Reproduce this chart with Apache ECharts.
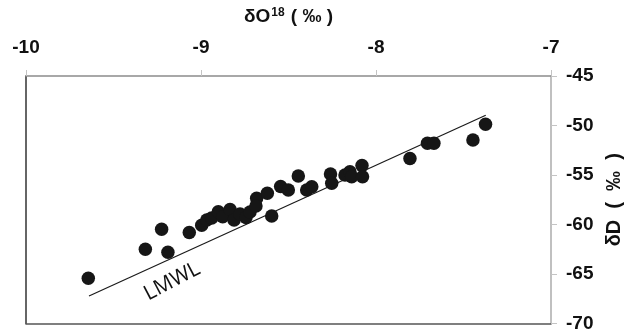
<!DOCTYPE html>
<html>
<head>
<meta charset="utf-8">
<script src="https://cdn.jsdelivr.net/npm/echarts@6/dist/echarts.min.js"></script>
<style>
  html, body { margin: 0; padding: 0; background: #fff; }
  #chart { width: 631px; height: 332px; }
</style>
</head>
<body>
<div id="chart"></div>
<script>
  // δO18 / δD samples
  var d18O = [-9.644, -9.318, -9.225, -9.189, -9.067, -8.996, -8.967, -8.939, -8.901, -8.876,
    -8.834, -8.811, -8.777, -8.743, -8.72, -8.682, -8.686, -8.621, -8.596, -8.545,
    -8.501, -8.444, -8.396, -8.367, -8.26, -8.253, -8.177, -8.149, -8.139, -8.08,
    -8.077, -7.806, -7.706, -7.669, -7.446, -7.374]
  var dD = [-65.43, -62.51, -60.48, -62.81, -60.81, -60.08, -59.55, -59.34, -58.71, -59.21,
    -58.48, -59.55, -58.94, -59.29, -58.74, -57.35, -58.13, -56.85, -59.14, -56.16,
    -56.52, -55.10, -56.52, -56.18, -54.90, -55.84, -55.0, -54.67, -55.17, -54.04,
    -55.17, -53.33, -51.80, -51.80, -51.46, -49.87]

  // local meteoric water line, end points
  var lmwlX = [-9.64, -7.373]
  var lmwlY = [-67.22, -48.97]
  var lmwlLabelAt = [-9.165, -65.75]

  var xTicks = [-10, -9, -8, -7]
  var yTicks = [-70, -65, -60, -55, -50, -45]

  var chart = echarts.init(document.getElementById('chart'))

  var pts = []
  for (var i = 0; i < d18O.length; i++) {
    pts.push([d18O[i], dD[i]])
  }
  var line = []
  for (var j = 0; j < lmwlX.length; j++) {
    line.push([lmwlX[j], lmwlY[j]])
  }

  var labelFont = {
    color: '#111',
    fontFamily: 'Liberation Sans, Arial, sans-serif',
    fontWeight: 'bold',
    fontSize: 19
  }

  var option = {
    animation: false,
    backgroundColor: '#fff',
    grid: {
      left: 26,
      right: 80,
      top: 76,
      bottom: 8.5,
      outerBoundsMode: 'none'
    },
    xAxis: [{
      type: 'value',
      position: 'top',
      min: xTicks[0],
      max: xTicks[xTicks.length - 1],
      interval: 1,
      splitLine: { show: false },
      axisLine: { lineStyle: { color: '#8c8c8c', width: 1.5 } },
      axisTick: { show: true, inside: false, length: 6, lineStyle: { color: '#c4c4c4' } },
      axisLabel: Object.assign({ margin: 19 }, labelFont),
      name: '{a|δO}{s|18}{a| ( ‰ )}',
      nameLocation: 'middle',
      nameGap: 49,
      nameTextStyle: {
        rich: {
          a: { fontFamily: 'Liberation Sans, Arial, sans-serif', fontWeight: 'bold', fontSize: 19, color: '#111' },
          s: { fontFamily: 'Liberation Sans, Arial, sans-serif', fontWeight: 'bold', fontSize: 12, color: '#111', verticalAlign: 'top', padding: [0, 1, 8, 1] }
        }
      }
    }, {
      type: 'value',
      position: 'bottom',
      min: xTicks[0],
      max: xTicks[xTicks.length - 1],
      interval: 1,
      splitLine: { show: false },
      axisLine: { show: true, onZero: false, lineStyle: { color: '#555', width: 1.5 } },
      axisTick: { show: false },
      axisLabel: { show: false }
    }],
    yAxis: [{
      type: 'value',
      position: 'right',
      min: yTicks[0],
      max: yTicks[yTicks.length - 1],
      interval: 5,
      splitLine: { show: false },
      axisLine: { show: true, onZero: false, lineStyle: { color: '#ababab', width: 1.5 } },
      axisTick: { show: true, inside: false, length: 6, lineStyle: { color: '#c4c4c4' } },
      axisLabel: Object.assign({ margin: 15 }, labelFont),
      name: 'δD  (  ‰  )',
      nameLocation: 'middle',
      nameRotate: 90,
      nameGap: 52,
      nameTextStyle: {
        fontFamily: 'Liberation Sans, Arial, sans-serif',
        fontWeight: 'bold',
        fontSize: 20,
        color: '#111'
      }
    }, {
      type: 'value',
      position: 'left',
      min: yTicks[0],
      max: yTicks[yTicks.length - 1],
      interval: 5,
      splitLine: { show: false },
      axisLine: { show: true, onZero: false, lineStyle: { color: '#333', width: 1.5 } },
      axisTick: { show: false },
      axisLabel: { show: false }
    }],
    series: [
      {
        name: 'LMWL',
        type: 'line',
        data: line,
        symbol: 'none',
        lineStyle: { color: '#1a1a1a', width: 1.2 },
        z: 2
      },
      {
        name: 'LMWL label',
        type: 'scatter',
        data: [lmwlLabelAt],
        symbolSize: 0,
        itemStyle: { opacity: 1 },
        label: {
          show: true,
          formatter: 'LMWL',
          position: 'inside',
          rotate: 27.5,
          fontFamily: 'Open Sans, sans-serif',
          fontSize: 21,
          color: '#111'
        },
        z: 3
      },
      {
        name: 'samples',
        type: 'scatter',
        data: pts,
        symbol: 'circle',
        symbolSize: 13.5,
        itemStyle: { color: '#161616', opacity: 1 },
        z: 4
      }
    ]
  }

  chart.setOption(option)
</script>
</body>
</html>
